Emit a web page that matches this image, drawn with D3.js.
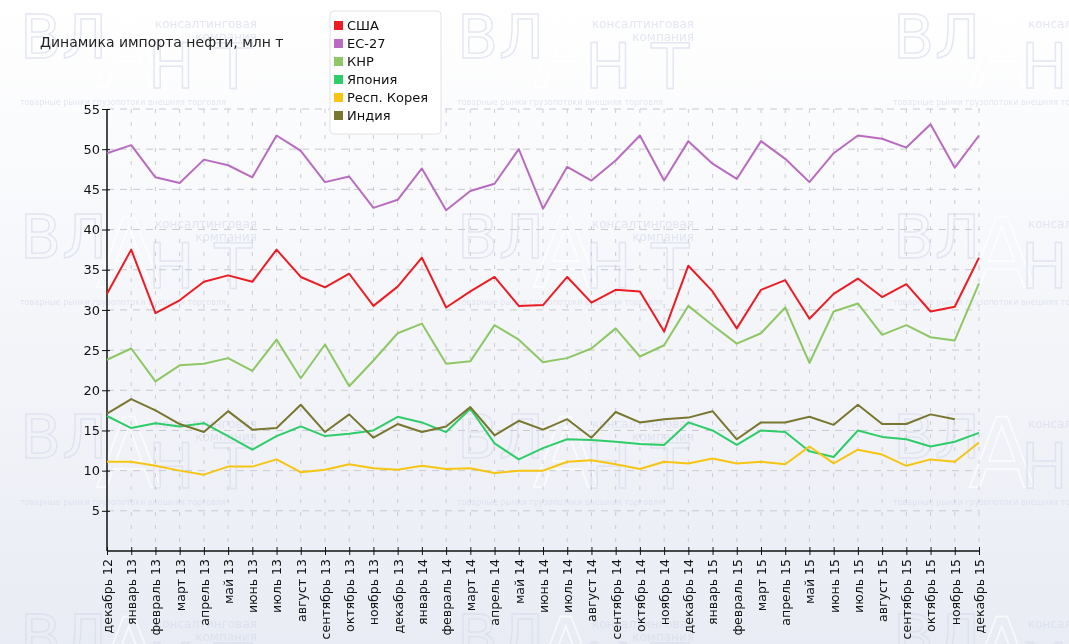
<!DOCTYPE html>
<html>
<head>
<meta charset="utf-8">
<script src="https://cdn.jsdelivr.net/npm/d3@7"></script>
<style>
  body { margin: 0; background: #fff; }
  svg { display: block; font-family: "DejaVu Sans", Verdana, sans-serif; }
</style>
</head>
<body>
<div id="chart"></div>
<script>
// months along x
var months = ["декабрь 12","январь 13","февраль 13","март 13","апрель 13","май 13","июнь 13","июль 13",
  "август 13","сентябрь 13","октябрь 13","ноябрь 13","декабрь 13","январь 14","февраль 14","март 14",
  "апрель 14","май 14","июнь 14","июль 14","август 14","сентябрь 14","октябрь 14","ноябрь 14","декабрь 14",
  "январь 15","февраль 15","март 15","апрель 15","май 15","июнь 15","июль 15","август 15","сентябрь 15",
  "октябрь 15","ноябрь 15","декабрь 15"];

var yTicks = [5,10,15,20,25,30,35,40,45,50,55];

var usa = [32.0,37.5,29.6,31.2,33.5,34.3,33.5,37.5,34.1,32.8,34.5,30.5,32.9,36.5,30.3,32.3,34.1,30.5,30.6,34.1,
  30.9,32.5,32.3,27.3,35.5,32.3,27.7,32.5,33.7,28.9,32.0,33.9,31.6,33.2,29.8,30.4,36.5];
var eu27 = [49.5,50.5,46.5,45.8,48.7,48.0,46.5,51.7,49.8,45.9,46.6,42.7,43.7,47.6,42.4,44.8,45.7,50.0,42.6,47.8,
  46.1,48.6,51.7,46.1,51.0,48.2,46.3,51.0,48.8,45.9,49.5,51.7,51.3,50.2,53.1,47.7,51.7];
var china = [23.8,25.2,21.1,23.1,23.3,24.0,22.4,26.3,21.5,25.7,20.5,23.7,27.1,28.3,23.3,23.6,28.1,26.3,23.5,24.0,
  25.2,27.7,24.2,25.6,30.5,28.1,25.8,27.1,30.3,23.4,29.8,30.8,26.9,28.1,26.6,26.2,33.3];
var japan = [16.8,15.3,15.9,15.5,15.9,14.3,12.6,14.3,15.5,14.3,14.6,15.0,16.7,16.0,14.8,17.7,13.4,11.4,12.8,13.9,
  13.8,13.6,13.3,13.2,16.0,15.0,13.2,15.0,14.8,12.4,11.7,15.0,14.2,13.9,13.0,13.6,14.7];
var korea = [11.1,11.1,10.6,10.0,9.5,10.5,10.5,11.4,9.8,10.1,10.8,10.3,10.1,10.6,10.2,10.3,9.7,10.0,10.0,11.1,
  11.3,10.8,10.2,11.1,10.9,11.5,10.9,11.1,10.8,13.0,10.9,12.6,12.0,10.6,11.4,11.1,13.5];
var india = [17.1,18.9,17.5,15.8,14.8,17.4,15.1,15.3,18.2,14.8,17.0,14.1,15.8,14.8,15.5,17.9,14.4,16.2,15.1,16.4,
  14.1,17.3,16.0,16.4,16.6,17.4,13.9,16.0,16.0,16.7,15.7,18.2,15.8,15.8,17.0,16.4,null];

var seriesNames = ["США","ЕС-27","КНР","Япония","Респ. Корея","Индия"];
var seriesColors = ["#ec1c24","#b86cc0","#8ec765","#2fcc6a","#f6c512","#79772f"];
var seriesData = [usa, eu27, china, japan, korea, india];

var W = 1069, H = 644;
var svg = d3.select("#chart").append("svg").attr("width", W).attr("height", H);

// background
var defs = svg.append("defs");
var grad = defs.append("linearGradient").attr("id", "bg").attr("x1", 0).attr("y1", 0).attr("x2", 0).attr("y2", 1);
grad.append("stop").attr("offset", "0%").attr("stop-color", "#ffffff");
grad.append("stop").attr("offset", "100%").attr("stop-color", "#e9ecf4");
svg.append("rect").attr("width", W).attr("height", H).attr("fill", "url(#bg)");

// watermark tiles (faint)
var wm = svg.append("g").attr("class", "watermark").attr("opacity", 0.7);
function tile(tx, ty) {
  var g = wm.append("g").attr("transform", "translate(" + tx + "," + ty + ")");
  var c = "#d9dcec";
  g.append("text").attr("x", 0).attr("y", 43).text("В")
    .attr("font-size", 60).attr("fill", "none").attr("stroke", c).attr("stroke-width", 1.4);
  g.append("text").attr("x", 42).attr("y", 43).text("Л")
    .attr("font-size", 60).attr("fill", "none").attr("stroke", c).attr("stroke-width", 1.4);
  g.append("text").attr("x", 76).attr("y", 72).text("А")
    .attr("font-size", 96).attr("fill", "none").attr("stroke", "#ffffff").attr("stroke-width", 1.6);
  g.append("text").attr("x", 128).attr("y", 73).text("Н Т")
    .attr("font-size", 62).attr("fill", "none").attr("stroke", c).attr("stroke-width", 1.4);
  g.append("text").attr("x", 237).attr("y", 13).attr("text-anchor", "end").text("консалтинговая")
    .attr("font-size", 12).attr("fill", c);
  g.append("text").attr("x", 237).attr("y", 26).attr("text-anchor", "end").text("компания")
    .attr("font-size", 12).attr("fill", c);
  g.append("text").attr("x", 0).attr("y", 90).text("товарные рынки    грузопотоки    внешняя торговля")
    .attr("font-size", 8).attr("fill", c);
}
[20, 457, 893].forEach(function (tx) {
  [15, 215, 415, 615].forEach(function (ty) { tile(tx, ty); });
});

// scales
var x = d3.scalePoint().domain(months).range([107, 979]);
var y = d3.scaleLinear().domain([0, 55]).range([551, 109]);

// grid
var grid = svg.append("g");
grid.selectAll("line.h").data(yTicks).enter().append("line")
  .attr("x1", 107).attr("x2", 980)
  .attr("y1", function (d) { return y(d); }).attr("y2", function (d) { return y(d); })
  .attr("stroke", "#c8cad0").attr("stroke-dasharray", "7,6");
grid.selectAll("line.v").data(months.slice(1)).enter().append("line")
  .attr("x1", function (d) { return x(d); }).attr("x2", function (d) { return x(d); })
  .attr("y1", 109).attr("y2", 551)
  .attr("stroke", "#cbcdd3").attr("stroke-dasharray", "4,9");

// axes
var yAxis = svg.append("g").attr("transform", "translate(107,0)")
  .call(d3.axisLeft(y).tickValues(yTicks).tickSize(4).tickPadding(3));
yAxis.select(".domain").attr("d", "M0," + y(0) + "V" + y(55)).attr("stroke", "#111").attr("stroke-width", 1.5);
yAxis.selectAll(".tick line").attr("x1", -5).attr("x2", 3).attr("stroke", "#111");
yAxis.selectAll(".tick text").attr("font-size", 13).attr("fill", "#111")
  .attr("font-family", "DejaVu Sans, sans-serif");

var xAxis = svg.append("g").attr("transform", "translate(0," + y(0) + ")")
  .call(d3.axisBottom(x).tickSize(4));
xAxis.select(".domain").attr("d", "M107,0H980").attr("stroke", "#111").attr("stroke-width", 1.5);
xAxis.selectAll(".tick line").attr("y1", -4).attr("y2", 4).attr("stroke", "#111");
xAxis.selectAll(".tick text")
  .attr("font-size", 12.5).attr("fill", "#111").attr("font-family", "DejaVu Sans, sans-serif")
  .attr("text-anchor", "end").attr("dy", "0.35em")
  .attr("transform", "translate(0,8) rotate(-90)").attr("x", 0).attr("y", 0);

// lines
var line = d3.line()
  .defined(function (d) { return d != null; })
  .x(function (d, i) { return x(months[i]); })
  .y(function (d) { return y(d); });

svg.append("g").selectAll("path").data(seriesData).enter().append("path")
  .attr("d", line)
  .attr("fill", "none")
  .attr("stroke", function (d, i) { return seriesColors[i]; })
  .attr("stroke-width", 2)
  .attr("stroke-linejoin", "round");

// title
svg.append("text").attr("x", 40).attr("y", 47).text("Динамика импорта нефти, млн т")
  .attr("font-size", 14).attr("fill", "#222");

// legend
var lg = svg.append("g").attr("transform", "translate(330,11)");
lg.append("rect").attr("width", 111).attr("height", 123).attr("rx", 4)
  .attr("fill", "#fff").attr("stroke", "#e2e2e2");
var items = lg.selectAll("g.item").data(seriesNames).enter().append("g")
  .attr("transform", function (d, i) { return "translate(4," + (14 + i * 18) + ")"; });
items.append("rect").attr("x", 0).attr("y", -4).attr("width", 9).attr("height", 9)
  .attr("fill", function (d, i) { return seriesColors[i]; });
items.append("text").attr("x", 13).attr("y", 0).attr("dy", "0.35em").text(function (d) { return d; })
  .attr("font-size", 13).attr("fill", "#111");
</script>
</body>
</html>
